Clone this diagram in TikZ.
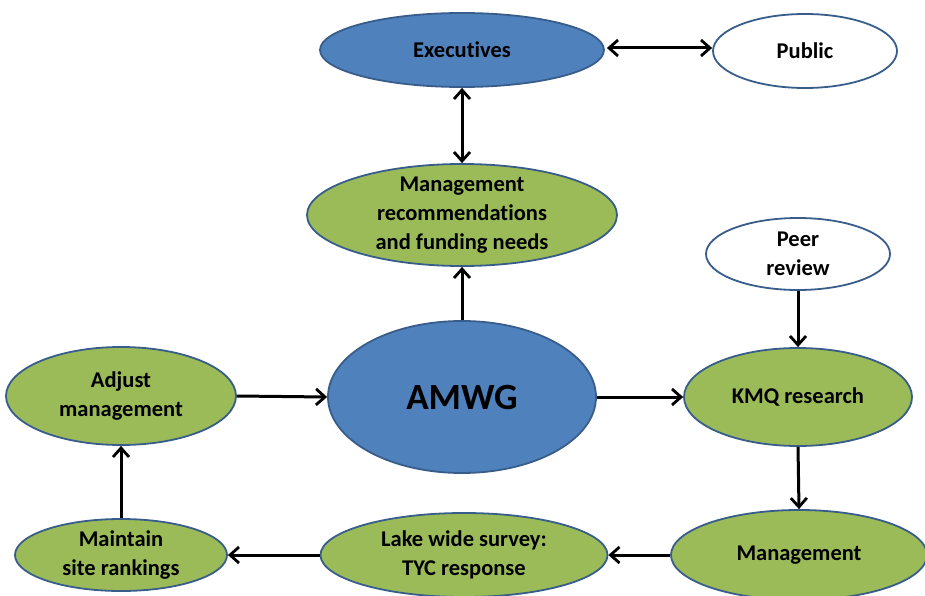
\documentclass[tikz,border=0pt]{standalone}
\usepackage{fontspec}
\setmainfont{Carlito}[Ligatures=NoCommon]
\usetikzlibrary{shapes.geometric,arrows.meta}
\definecolor{boxblue}{HTML}{4F81BD}
\definecolor{boxgreen}{HTML}{9BBB59}
\definecolor{edgeblue}{HTML}{385D8A}
\tikzset{
  oval/.style={ellipse, draw=edgeblue, line width=1.8pt, inner sep=0pt},
  blueoval/.style={oval, fill=boxblue},
  greenoval/.style={oval, fill=boxgreen},
  whiteoval/.style={oval, fill=white},
  lbl/.style={align=center, font=\bfseries\fontsize{22.5}{29}\selectfont, inner sep=0pt},
  barb/.tip={Straight Barb[length=9pt,width=16pt,line width=2.8pt]},
  flow/.style={line width=3pt, -barb},
  twoway/.style={line width=3pt, barb-barb}
}
\begin{document}
\begin{tikzpicture}[x=1pt,y=-1pt]
\useasboundingbox (0,0) rectangle (925,596);
\clip (0,0) rectangle (925,596);
% ovals
\node[blueoval, minimum width=284pt, minimum height=74pt] (exec) at (462,50) {};
\node[whiteoval, minimum width=184pt, minimum height=74pt] (pub) at (805,51) {};
\node[greenoval, minimum width=310pt, minimum height=102pt] (rec) at (462,215) {};
\node[whiteoval, minimum width=184pt, minimum height=72pt] (peer) at (798,254) {};
\node[blueoval, minimum width=268pt, minimum height=152pt] (amwg) at (462,397) {};
\node[greenoval, minimum width=230pt, minimum height=98pt] (adj) at (121,396) {};
\node[greenoval, minimum width=228pt, minimum height=98pt] (kmq) at (798,397) {};
\node[greenoval, minimum width=212pt, minimum height=72pt] (rank) at (121,555) {};
\node[greenoval, minimum width=287pt, minimum height=84pt] (lake) at (464,555) {};
\node[greenoval, minimum width=256pt, minimum height=90pt] (mgmt) at (799,555) {};
% labels
\node[lbl] at (exec) {Executives};
\node[lbl] at (pub) {Public};
\node[lbl] at (rec) {Management\\recommendations\\and funding needs};
\node[lbl] at (peer) {Peer\\review};
\node[lbl, font=\bfseries\fontsize{37}{40}\selectfont] at (amwg) {AMWG};
\node[lbl] at (adj) {Adjust\\management};
\node[lbl] at (kmq) {KMQ research};
\node[lbl] at (rank) {Maintain\\site rankings};
\node[lbl] at (lake) {Lake wide survey:\\TYC response};
\node[lbl] at (mgmt) {Management};
% connectors
\draw[twoway] (exec.east) ++(2,-2) coordinate (e1) -- (pub.west |- e1);
\draw[twoway] (exec.south) -- (rec.north);
\draw[flow] (amwg.north) -- (rec.south);
\draw[flow] (adj.east) -- (amwg.west);
\draw[flow] (amwg.east) -- (kmq.west);
\draw[flow] (peer.south) -- (kmq.north);
\draw[flow] (kmq.south) -- (mgmt.north);
\draw[flow] (mgmt.west) -- (lake.east);
\draw[flow] (lake.west) -- (rank.east);
\draw[flow] (rank.north) -- (adj.south);
\end{tikzpicture}
\end{document}
